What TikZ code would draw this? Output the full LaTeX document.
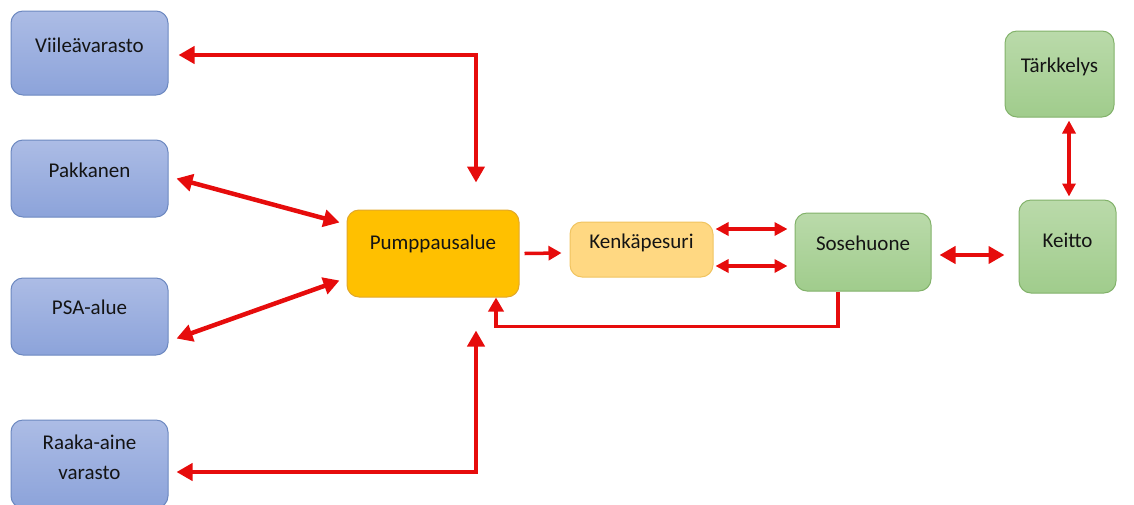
\documentclass[tikz,border=0pt]{standalone}
\usepackage{fontspec}
\setmainfont{Carlito}
\usetikzlibrary{arrows.meta,calc}

\definecolor{flowred}{RGB}{230,12,12}
\definecolor{bluetop}{RGB}{172,188,229}
\definecolor{bluebot}{RGB}{140,163,218}
\definecolor{blueline}{RGB}{108,136,192}
\definecolor{greentop}{RGB}{186,218,170}
\definecolor{greenbot}{RGB}{160,204,140}
\definecolor{greenline}{RGB}{130,178,106}
\definecolor{pumpfill}{RGB}{255,192,0}
\definecolor{pumpline}{RGB}{226,168,40}
\definecolor{kenfill}{RGB}{255,216,130}
\definecolor{kenline}{RGB}{240,196,96}
\definecolor{labeltext}{RGB}{20,20,20}

\tikzset{
  box/.style={rectangle, rounded corners=12pt, line width=1pt, inner sep=0pt},
  bluebox/.style={box, draw=blueline, top color=bluetop, bottom color=bluebot},
  greenbox/.style={box, draw=greenline, top color=greentop, bottom color=greenbot},
  pumpbox/.style={box, draw=pumpline, fill=pumpfill},
  kenbox/.style={box, draw=kenline, fill=kenfill},
  txt/.style={font=\fontsize{21}{30}\selectfont, text=labeltext, align=center, inner sep=0pt},
  arr/.style={draw=flowred, line width=4.5pt,
    arrows={Triangle[length=16pt,width=17pt]-Triangle[length=16pt,width=17pt]}},
  arrone/.style={draw=flowred, line width=4.5pt, -{Triangle[length=16pt,width=17pt]}},
  arrsmall/.style={draw=flowred, line width=3.5pt,
    arrows={Triangle[length=13pt,width=13pt]-Triangle[length=13pt,width=13pt]}},
}

\begin{document}
\begin{tikzpicture}[x=1pt, y=-1pt]
  \useasboundingbox (0,0) rectangle (1134,504);

  % storage boxes on the left
  \node[bluebox, minimum width=157pt, minimum height=84pt] (vil) at (89.5,53) {};
  \node[txt] (vilt) at (89.5,45) {Viileävarasto};
  \node[bluebox, minimum width=157pt, minimum height=77pt] (pak) at (89.5,178.5) {};
  \node[txt] (pakt) at (89.5,170) {Pakkanen};
  \node[bluebox, minimum width=157pt, minimum height=77pt] (psa) at (89.5,316.5) {};
  \node[txt] (psat) at (89.5,307) {PSA-alue};
  \node[bluebox, minimum width=157pt, minimum height=88pt] (raa) at (89.5,464) {};
  \node[txt] (raat) at (89.5,457) {Raaka-aine\\varasto};

  % process boxes
  \node[pumpbox, minimum width=172pt, minimum height=87pt] (pum) at (433,253.5) {};
  \node[txt] (pumt) at (433,244) {Pumppausalue};
  \node[kenbox, minimum width=143pt, minimum height=55pt] (ken) at (641.5,249.5) {};
  \node[txt] (kent) at (641.5,243) {Kenkäpesuri};
  \node[greenbox, minimum width=136pt, minimum height=78pt] (sos) at (863,252) {};
  \node[txt] (sost) at (863,243) {Sosehuone};
  \node[greenbox, minimum width=97pt, minimum height=93pt] (kei) at (1067.5,246.5) {};
  \node[txt] (keit) at (1067.5,240) {Keitto};
  \node[greenbox, minimum width=109pt, minimum height=86pt] (tar) at (1059.5,74) {};
  \node[txt] (tart) at (1059.5,67) {Tärkkelys};

  % flows between storages and the pumping area
  \draw[arr] ($(vil.east)+(10,2)$) -| ($(pum.north)+(43,-27)$);
  \draw[arr] ($(pak.east)+(8,0)$) -- ($(pum.west)+(-7,-31)$);
  \draw[arr] ($(psa.east)+(8,22)$) -- ($(pum.west)+(-7,27)$);
  \draw[arr] ($(raa.east)+(8,8)$) -| ($(pum.south)+(43,33)$);

  % process line
  \draw[arrone, line width=3.5pt, -{Triangle[length=13pt,width=14pt]}] ($(pum.east)+(5,0)$) -- ($(ken.west)+(-8,3.5)$);
  \draw[arrsmall] ($(ken.east)+(2,-20.5)$) -- ($(sos.west)+(-7,-23)$);
  \draw[arrsmall] ($(ken.east)+(2,16.5)$) -- ($(sos.west)+(-7,14)$);
  \draw[arrone, line width=3.5pt, -{Triangle[length=14pt,width=15pt]}] ($(sos.south)+(-25,0)$) |- ($(pum.south)+(63,29)$) -- ($(pum.south)+(63,0)$);
  \draw[arr, line width=4.5pt] ($(sos.east)+(8,3)$) -- ($(kei.west)+(-14,8.5)$);
  \draw[arrsmall, line width=4pt] ($(tar.south)+(9.5,3)$) -- ($(kei.north)+(1.5,-3)$);
\end{tikzpicture}
\end{document}
